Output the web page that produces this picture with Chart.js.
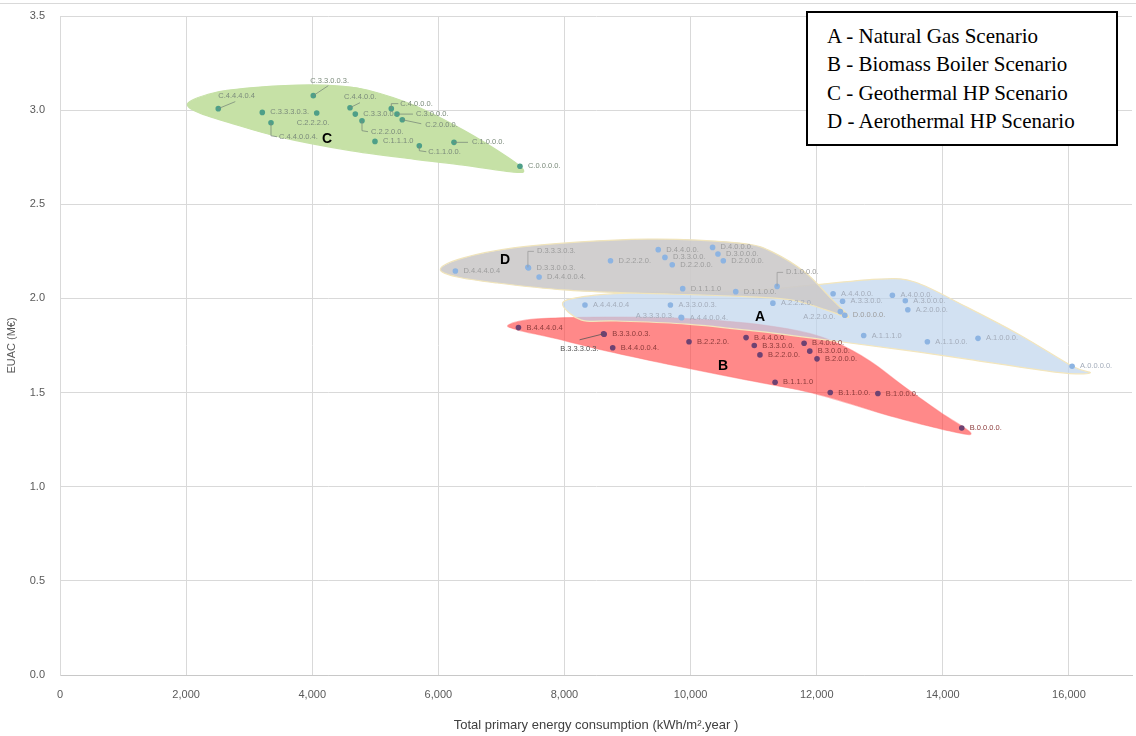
<!DOCTYPE html>
<html>
<head>
<meta charset="utf-8">
<script src="https://cdn.jsdelivr.net/npm/chart.js@4.4.1/dist/chart.umd.min.js"></script>
<style>
  html, body { margin: 0; padding: 0; background: #fff; }
  #wrap { position: relative; width: 1136px; height: 736px; }
  #legendBox {
    position: absolute; left: 806px; top: 11px; width: 312px; height: 135px;
    box-sizing: border-box; border: 2px solid #000; background: #fff;
    padding: 9px 0 0 19px;
    font-family: "Liberation Serif", "Times New Roman", serif; font-size: 21px; line-height: 28.3px; color: #000;
  }
</style>
</head>
<body>
<div id="wrap">
  <canvas id="chart"></canvas>
  <div id="legendBox">
    <div>A - Natural Gas Scenario</div>
    <div>B - Biomass Boiler Scenario</div>
    <div>C - Geothermal HP Scenario</div>
    <div>D - Aerothermal HP Scenario</div>
  </div>
</div>
<script>
// scenario points: names, primary energy (kWh/m2.year), EUAC (M€)
const namesA = ['A.4.4.4.0.4', 'A.3.3.0.0.3.', 'A.3.3.3.0.3.', 'A.4.4.0.0.4.', 'A.2.2.2.0.', 'A.2.2.0.0.', 'A.4.4.0.0.', 'A.3.3.0.0.', 'A.4.0.0.0.', 'A.3.0.0.0.', 'A.2.0.0.0.', 'A.1.1.1.0', 'A.1.1.0.0.', 'A.1.0.0.0.', 'A.0.0.0.0.'];
const energyA = [8325, 9680, 9850, 9858, 11305, 12375, 12260, 12410, 13200, 13405, 13445, 12745, 13755, 14558, 16050];
const euacA = [1.965, 1.965, 1.900, 1.897, 1.975, 1.930, 2.025, 1.985, 2.017, 1.988, 1.940, 1.803, 1.770, 1.788, 1.640];

const namesB = ['B.4.4.4.0.4', 'B.3.3.3.0.3.', 'B.3.3.0.0.3.', 'B.4.4.0.0.4.', 'B.2.2.2.0.', 'B.4.4.0.0.', 'B.3.3.0.0.', 'B.2.2.0.0.', 'B.4.0.0.0.', 'B.3.0.0.0.', 'B.2.0.0.0.', 'B.1.1.1.0', 'B.1.1.0.0.', 'B.1.0.0.0.', 'B.0.0.0.0.'];
const energyB = [7270, 8620, 8630, 8765, 9975, 10880, 11010, 11100, 11800, 11890, 12005, 11340, 12215, 12970, 14300];
const euacB = [1.845, 1.812, 1.810, 1.738, 1.770, 1.792, 1.750, 1.700, 1.762, 1.720, 1.679, 1.555, 1.500, 1.495, 1.312];

const namesC = ['C.4.4.4.0.4', 'C.3.3.3.0.3.', 'C.4.4.0.0.4.', 'C.3.3.0.0.3.', 'C.2.2.2.0.', 'C.4.4.0.0.', 'C.3.3.0.0.', 'C.2.2.0.0.', 'C.4.0.0.0.', 'C.3.0.0.0.', 'C.2.0.0.0.', 'C.1.1.1.0', 'C.1.1.0.0.', 'C.1.0.0.0.', 'C.0.0.0.0.'];
const energyC = [2510, 3208, 3346, 4017, 4071, 4599, 4683, 4789, 5254, 5344, 5428, 4995, 5698, 6248, 7294];
const euacC = [3.008, 2.988, 2.933, 3.077, 2.985, 3.013, 2.979, 2.944, 3.008, 2.979, 2.949, 2.834, 2.811, 2.829, 2.702];

const namesD = ['D.4.4.4.0.4', 'D.3.3.3.0.3.', 'D.3.3.0.0.3.', 'D.4.4.0.0.4.', 'D.2.2.2.0.', 'D.4.4.0.0.', 'D.3.3.0.0.', 'D.2.2.0.0.', 'D.4.0.0.0.', 'D.3.0.0.0.', 'D.2.0.0.0.', 'D.1.1.1.0', 'D.1.1.0.0.', 'D.1.0.0.0.', 'D.0.0.0.0.'];
const energyD = [6270, 7420, 7430, 7598, 8730, 9487, 9593, 9709, 10349, 10434, 10519, 9875, 10716, 11372, 12445];
const euacD = [2.146, 2.165, 2.162, 2.114, 2.200, 2.259, 2.218, 2.179, 2.271, 2.236, 2.200, 2.052, 2.036, 2.064, 1.911];

// hand-drawn scenario envelopes (data units)
const outlineAx = [7968, 8254, 9048, 10111, 11111, 11905, 12095, 12984, 13556, 14381, 15222, 16048, 16333, 15778, 14381, 13270, 12159, 11048, 9937, 8825, 8270];
const outlineAy = [1.970, 2.007, 2.029, 2.035, 2.045, 2.071, 2.076, 2.103, 2.087, 1.954, 1.806, 1.641, 1.604, 1.609, 1.678, 1.731, 1.779, 1.826, 1.864, 1.880, 1.885];
const outlineBx = [7111, 7556, 8667, 9778, 10889, 11730, 12286, 12841, 13397, 13952, 14444, 14111, 13111, 12000, 10889, 9778, 8667, 7825, 7270];
const outlineBy = [1.859, 1.891, 1.901, 1.896, 1.869, 1.826, 1.768, 1.668, 1.529, 1.397, 1.285, 1.296, 1.381, 1.492, 1.567, 1.641, 1.721, 1.790, 1.832];
const outlineCx = [2032, 2429, 2968, 3762, 4444, 4873, 5603, 6397, 7095, 7349, 7190, 6397, 5603, 4556, 3492, 2698, 2175];
const outlineCy = [3.038, 3.091, 3.117, 3.133, 3.128, 3.107, 3.027, 2.894, 2.751, 2.682, 2.671, 2.708, 2.740, 2.788, 2.857, 2.932, 2.990];
const outlineDx = [6032, 6397, 7190, 8254, 9317, 10111, 10905, 11302, 11810, 12222, 12508, 12159, 11587, 10635, 9048, 7984, 6937, 6302];
const outlineDy = [2.156, 2.215, 2.268, 2.300, 2.315, 2.310, 2.289, 2.246, 2.140, 2.002, 1.901, 1.938, 1.992, 2.013, 2.029, 2.045, 2.082, 2.114];

const xTicks = [0, 2000, 4000, 6000, 8000, 10000, 12000, 14000, 16000];

function pts(xs, ys) { return xs.map((x, i) => ({ x: x, y: ys[i] })); }

const regions = [
  { letter: 'B', xs: outlineBx, ys: outlineBy, fill: 'rgba(255,70,70,0.64)', stroke: 'rgba(255,120,120,0.5)', lx: 10513, ly: 1.641 },
  { letter: 'A', xs: outlineAx, ys: outlineAy, fill: 'rgba(189,211,236,0.68)', stroke: '#f3e6bd', lx: 11100, ly: 1.903 },
  { letter: 'D', xs: outlineDx, ys: outlineDy, fill: 'rgba(205,203,203,0.92)', stroke: '#f0e4bb', lx: 7057, ly: 2.204 },
  { letter: 'C', xs: outlineCx, ys: outlineCy, fill: '#c6e1a6', stroke: '#c6e1a6', lx: 4235, ly: 2.846 }
];

// label placement relative to the marker (px); default is to the right
const labelPlacement = {
  'C.4.4.4.0.4': { dx: 0, dy: -13, leader: [[0, 0], [17, -7]] },
  'C.3.3.0.0.3.': { dx: -3, dy: -15, leader: [[0, 0], [15, -10]] },
  'C.2.2.2.0.': { dx: -20, dy: 10 },
  'C.4.4.0.0.4.': { dx: 8, dy: 14, leader: [[0, 0], [0, 13], [6, 14]] },
  'C.4.4.0.0.': { dx: -6, dy: -11, leader: [[0, 0], [10, -5]] },
  'C.2.2.0.0.': { dx: 9, dy: 11, leader: [[0, 0], [0, 10], [6, 11]] },
  'C.4.0.0.0.': { dx: 9, dy: -5, leader: [[0, 0], [0, -5], [7, -5]] },
  'C.3.0.0.0.': { dx: 19, dy: 0, leader: [[0, 0], [16, 0]] },
  'C.2.0.0.0.': { dx: 23, dy: 5, leader: [[0, 0], [19, 4]] },
  'C.1.1.0.0.': { dx: 9, dy: 6, leader: [[0, 0], [0, 5], [7, 6]] },
  'C.1.0.0.0.': { dx: 18, dy: 0, leader: [[0, 0], [14, 0]] },
  'D.3.3.3.0.3.': { dx: 9, dy: -16, leader: [[0, 0], [0, -16], [6, -16]] },
  'D.1.0.0.0.': { dx: 9, dy: -14, leader: [[0, 0], [0, -14], [6, -14]] },
  'A.3.3.3.0.3.': { dx: -7, dy: -1, align: 'right' },
  'A.2.2.0.0.': { dx: -5, dy: 5, align: 'right' },
  'B.3.3.3.0.3.': { dx: -5, dy: 15, align: 'right', leader: [[0, 0], [-24, 6]], color: '#555' }
};

function smoothClosed(ctx, p) {
  const n = p.length;
  ctx.beginPath();
  ctx.moveTo(p[0].x, p[0].y);
  for (let i = 0; i < n; i++) {
    const p0 = p[(i - 1 + n) % n], p1 = p[i], p2 = p[(i + 1) % n], p3 = p[(i + 2) % n];
    ctx.bezierCurveTo(
      p1.x + (p2.x - p0.x) / 6, p1.y + (p2.y - p0.y) / 6,
      p2.x - (p3.x - p1.x) / 6, p2.y - (p3.y - p1.y) / 6,
      p2.x, p2.y);
  }
  ctx.closePath();
}

const envelopes = {
  id: 'envelopes',
  beforeDraw(chart) {
    const ctx = chart.ctx;
    ctx.save();
    ctx.strokeStyle = '#d9d9d9';
    ctx.lineWidth = 1;
    ctx.beginPath();
    ctx.moveTo(0, 3.5); ctx.lineTo(chart.width, 3.5);
    ctx.stroke();
    ctx.restore();
  },
  beforeDatasetsDraw(chart) {
    const { ctx, chartArea, scales: { x, y } } = chart;
    ctx.save();
    ctx.beginPath();
    ctx.rect(chartArea.left, chartArea.top, chartArea.right - chartArea.left, chartArea.bottom - chartArea.top);
    ctx.clip();
    regions.forEach(r => {
      const p = r.xs.map((v, i) => ({ x: x.getPixelForValue(v), y: y.getPixelForValue(r.ys[i]) }));
      smoothClosed(ctx, p);
      ctx.fillStyle = r.fill;
      ctx.fill();
      ctx.strokeStyle = r.stroke;
      ctx.lineWidth = 1.2;
      ctx.stroke();
    });
    ctx.restore();
  },
  afterDatasetsDraw(chart) {
    const { ctx, scales: { x, y } } = chart;
    ctx.save();
    ctx.font = '7.5px "Liberation Sans", Arial, sans-serif';
    ctx.textBaseline = 'middle';
    chart.data.datasets.forEach((ds, di) => {
      const meta = chart.getDatasetMeta(di);
      meta.data.forEach((el, j) => {
        const name = ds.names[j];
        const lp = labelPlacement[name] || { dx: 8, dy: 0 };
        const col = lp.color || ds.labelColor;
        if (lp.leader) {
          ctx.strokeStyle = col;
          ctx.lineWidth = 0.8;
          ctx.beginPath();
          lp.leader.forEach((q, k) => {
            if (k === 0) ctx.moveTo(el.x + q[0], el.y + q[1]);
            else ctx.lineTo(el.x + q[0], el.y + q[1]);
          });
          ctx.stroke();
        }
        ctx.fillStyle = col;
        ctx.textAlign = lp.align || 'left';
        ctx.fillText(name, el.x + lp.dx, el.y + lp.dy);
      });
    });
    ctx.font = 'bold 14px "Liberation Sans", Arial, sans-serif';
    ctx.fillStyle = '#000';
    ctx.textAlign = 'center';
    regions.forEach(r => {
      ctx.fillText(r.letter, x.getPixelForValue(r.lx), y.getPixelForValue(r.ly));
    });
    ctx.restore();
  }
};

function scenario(names, xs, ys, dot, labelColor) {
  return {
    data: pts(xs, ys),
    names: names,
    labelColor: labelColor,
    backgroundColor: dot,
    borderColor: dot,
    pointRadius: 2.8,
    pointBorderWidth: 0
  };
}

new Chart(document.getElementById('chart'), {
  type: 'scatter',
  data: {
    datasets: [
      scenario(namesB, energyB, euacB, '#6e4272', '#8c3b3b'),
      scenario(namesA, energyA, euacA, '#8db4e2', '#a3acba'),
      scenario(namesD, energyD, euacD, '#8db4e2', '#9c9c9c'),
      scenario(namesC, energyC, euacC, '#4e9f88', '#7b8b7b')
    ]
  },
  options: {
    responsive: true,
    maintainAspectRatio: false,
    animation: false,
    layout: { padding: { top: 16, right: 3, left: 0, bottom: 0 } },
    plugins: { legend: { display: false }, tooltip: { enabled: false } },
    scales: {
      x: {
        type: 'linear',
        min: 0,
        max: 17000,
        afterFit(scale) { scale.height = 61; },
        afterBuildTicks(scale) { scale.ticks = xTicks.map(v => ({ value: v })); },
        ticks: {
          padding: 13,
          color: '#595959',
          font: { family: '"Liberation Sans", Arial, sans-serif', size: 11 },
          callback: v => v.toLocaleString('en-US')
        },
        grid: { color: '#d9d9d9', drawTicks: false },
        border: { color: '#c8c8c8' },
        title: {
          display: true,
          text: 'Total primary energy consumption (kWh/m\u00b2.year )',
          color: '#404040',
          font: { family: '"Liberation Sans", Arial, sans-serif', size: 13 },
          padding: { top: 0, bottom: 3 }
        }
      },
      y: {
        min: 0,
        max: 3.5,
        afterFit(scale) {
          scale.width = 60;
          scale.paddingTop = 0;
          scale.paddingBottom = 0;
        },
        ticks: {
          stepSize: 0.5,
          padding: 15,
          color: '#595959',
          font: { family: '"Liberation Sans", Arial, sans-serif', size: 11 },
          callback: v => v.toFixed(1)
        },
        grid: { color: '#d9d9d9', drawTicks: false },
        border: { color: '#d9d9d9' },
        title: {
          display: true,
          text: 'EUAC (M\u20ac)',
          color: '#595959',
          font: { family: '"Liberation Sans", Arial, sans-serif', size: 11 },
          padding: { top: 5, bottom: 0 }
        }
      }
    }
  },
  plugins: [envelopes]
});
</script>
</body>
</html>
